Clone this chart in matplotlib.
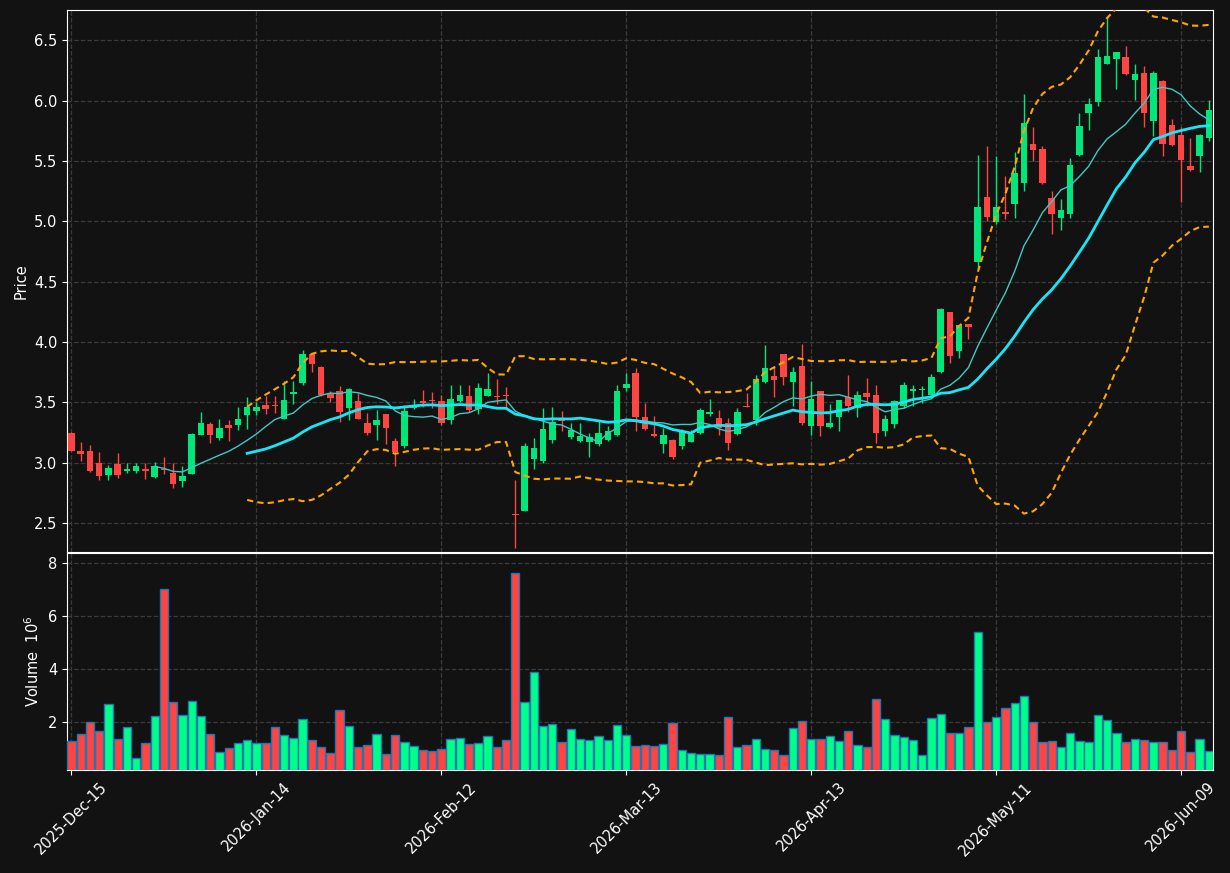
import numpy as np
import pandas as pd
import matplotlib
matplotlib.use("Agg")
import matplotlib.pyplot as plt

# daily OHLC (price) and volume (millions), one entry per trading day
opens = [3.249, 3.100, 3.097, 2.998, 2.898, 2.990, 2.932, 2.932, 2.951, 2.882,
         2.948, 2.915, 2.852, 2.909, 3.232, 3.321, 3.205, 3.312, 3.312, 3.398,
         3.431, 3.478, 3.472, 3.365, 3.567, 3.658, 3.901, 3.796, 3.572, 3.597,
         3.456, 3.514, 3.332, 3.316, 3.407, 3.183, 3.136, 3.454, 3.509, 3.516,
         3.514, 3.352, 3.509, 3.556, 3.448, 3.556, 3.547, 3.560, 2.574, 2.603,
         3.031, 3.014, 3.188, 3.373, 3.216, 3.183, 3.174, 3.155, 3.188, 3.230,
         3.621, 3.743, 3.379, 3.238, 3.158, 3.188, 3.141, 3.174, 3.249, 3.406,
         3.370, 3.326, 3.241, 3.468, 3.354, 3.671, 3.718, 3.898, 3.666, 3.804,
         3.307, 3.594, 3.294, 3.376, 3.542, 3.451, 3.581, 3.561, 3.260, 3.324,
         3.473, 3.592, 3.600, 3.564, 3.749, 4.251, 3.923, 4.152, 4.660, 5.203,
         4.991, 5.079, 5.140, 5.313, 5.639, 5.598, 5.189, 5.024, 5.057, 5.551,
         5.893, 5.992, 6.307, 6.348, 6.362, 6.174, 6.230, 5.827, 6.163, 5.796,
         5.714, 5.460, 5.537, 5.686]
highs = [3.255, 3.172, 3.144, 3.086, 2.984, 3.078, 2.995, 2.995, 2.995, 3.003,
         3.045, 2.995, 2.973, 3.243, 3.420, 3.334, 3.359, 3.354, 3.461, 3.541,
         3.506, 3.555, 3.555, 3.674, 3.674, 3.937, 3.909, 3.800, 3.597, 3.639,
         3.619, 3.578, 3.412, 3.440, 3.407, 3.205, 3.481, 3.531, 3.605, 3.586,
         3.564, 3.644, 3.647, 3.641, 3.661, 3.743, 3.694, 3.627, 2.857, 3.166,
         3.202, 3.456, 3.464, 3.428, 3.332, 3.332, 3.249, 3.345, 3.301, 3.643,
         3.746, 3.781, 3.492, 3.387, 3.285, 3.194, 3.279, 3.271, 3.450, 3.530,
         3.434, 3.368, 3.450, 3.575, 3.724, 3.978, 3.790, 3.898, 3.793, 3.986,
         3.680, 3.594, 3.487, 3.523, 3.730, 3.594, 3.702, 3.644, 3.398, 3.523,
         3.669, 3.641, 3.636, 3.738, 4.280, 4.251, 4.143, 4.152, 5.548, 5.625,
         5.542, 5.377, 5.570, 6.053, 5.777, 5.620, 5.247, 5.184, 5.523, 5.896,
         6.025, 6.425, 6.693, 6.403, 6.453, 6.301, 6.285, 6.241, 6.172, 5.846,
         5.783, 5.689, 5.722, 6.003]
lows = [3.095, 3.012, 2.926, 2.860, 2.854, 2.876, 2.912, 2.912, 2.868, 2.876,
        2.904, 2.788, 2.796, 2.905, 3.230, 3.161, 3.188, 3.183, 3.271, 3.279,
        3.395, 3.401, 3.414, 3.359, 3.487, 3.641, 3.749, 3.555, 3.503, 3.335,
        3.352, 3.365, 3.230, 3.186, 3.156, 2.976, 3.120, 3.448, 3.459, 3.454,
        3.310, 3.321, 3.500, 3.420, 3.404, 3.550, 3.487, 3.462, 2.291, 2.600,
        2.948, 3.000, 3.166, 3.265, 3.200, 3.170, 3.050, 3.140, 3.180, 3.220,
        3.597, 3.265, 3.270, 3.210, 3.083, 3.028, 3.111, 3.170, 3.240, 3.387,
        3.230, 3.105, 3.230, 3.462, 3.315, 3.661, 3.541, 3.641, 3.473, 3.313,
        3.233, 3.219, 3.290, 3.260, 3.423, 3.379, 3.467, 3.164, 3.219, 3.288,
        3.454, 3.467, 3.495, 3.560, 3.740, 3.826, 3.868, 4.025, 4.604, 5.000,
        4.980, 5.018, 5.026, 5.247, 5.496, 5.308, 4.894, 4.927, 5.024, 5.542,
        5.755, 5.954, 6.301, 6.094, 6.208, 6.003, 5.777, 5.708, 5.542, 5.620,
        5.156, 5.418, 5.405, 5.661]
closes = [3.100, 3.075, 2.934, 2.893, 2.956, 2.901, 2.948, 2.973, 2.934, 2.973,
          2.942, 2.827, 2.890, 3.238, 3.329, 3.232, 3.285, 3.290, 3.362, 3.461,
          3.461, 3.448, 3.468, 3.523, 3.583, 3.901, 3.815, 3.564, 3.539, 3.423,
          3.614, 3.365, 3.244, 3.357, 3.285, 3.087, 3.432, 3.470, 3.495, 3.512,
          3.327, 3.531, 3.564, 3.434, 3.622, 3.614, 3.543, 3.556, 2.568, 3.139,
          3.119, 3.279, 3.334, 3.348, 3.271, 3.221, 3.210, 3.243, 3.263, 3.594,
          3.652, 3.381, 3.279, 3.221, 3.230, 3.050, 3.257, 3.238, 3.437, 3.420,
          3.290, 3.166, 3.417, 3.464, 3.690, 3.781, 3.685, 3.708, 3.749, 3.329,
          3.531, 3.307, 3.332, 3.523, 3.473, 3.561, 3.547, 3.247, 3.365, 3.509,
          3.647, 3.614, 3.614, 3.713, 4.276, 3.881, 4.143, 4.121, 5.120, 5.032,
          5.120, 5.060, 5.399, 5.813, 5.592, 5.313, 5.057, 5.093, 5.468, 5.791,
          5.970, 6.362, 6.370, 6.403, 6.216, 6.221, 5.893, 6.232, 5.639, 5.634,
          5.509, 5.427, 5.716, 5.921]
volumes = [1.283, 1.547, 2.000, 1.660, 2.680, 1.358, 1.811, 0.667, 1.220, 2.226,
           7.019, 2.755, 2.264, 2.792, 2.226, 1.547, 0.868, 1.019, 1.220, 1.321,
           1.220, 1.220, 1.811, 1.509, 1.396, 2.113, 1.321, 1.057, 0.830, 2.453,
           1.849, 1.057, 1.132, 1.547, 0.792, 1.509, 1.245, 1.094, 0.943, 0.906,
           0.981, 1.358, 1.396, 1.170, 1.208, 1.472, 1.057, 1.321, 7.623, 2.755,
           3.887, 1.849, 1.925, 1.245, 1.736, 1.358, 1.321, 1.472, 1.321, 1.887,
           1.509, 1.094, 1.132, 1.094, 1.170, 1.962, 0.943, 0.830, 0.792, 0.792,
           0.755, 2.189, 1.057, 1.132, 1.358, 0.981, 0.943, 0.755, 1.774, 2.038,
           1.358, 1.358, 1.472, 1.283, 1.660, 1.132, 1.057, 2.868, 2.113, 1.509,
           1.434, 1.321, 0.755, 2.151, 2.302, 1.585, 1.585, 1.811, 5.396, 2.000,
           2.189, 2.528, 2.717, 2.981, 2.000, 1.245, 1.283, 1.057, 1.585, 1.283,
           1.245, 2.264, 2.075, 1.585, 1.245, 1.358, 1.321, 1.245, 1.245, 0.943,
           1.660, 0.868, 1.358, 0.906]
tick_labels = ["2025-Dec-15", "2026-Jan-14", "2026-Feb-12", "2026-Mar-13",
               "2026-Apr-13", "2026-May-11", "2026-Jun-09"]

bg = "#121212"
up_c, down_c = "#00E67A", "#FF4444"
vup_c, vdown_c = "#00FF88", "#FF4444"

o = np.array(opens); h = np.array(highs); l = np.array(lows); c = np.array(closes)
v = np.array(volumes)
x = np.arange(len(c))
close_s = pd.Series(c)
ma10 = close_s.rolling(10).mean()
ma20 = close_s.rolling(20).mean()
sd20 = close_s.rolling(20).std()

fig = plt.figure(figsize=(12.3, 8.73), dpi=100, facecolor=bg)
ax = fig.add_axes([0.0545, 0.3677, 0.9317, 0.6208])
axv = fig.add_axes([0.0545, 0.118, 0.9317, 0.2486], sharex=ax)

up = c >= o
cols = np.where(up, up_c, down_c)
body_lo = np.minimum(o, c)
body_h = np.maximum(np.abs(c - o), 0.008)
ax.vlines(x, l, h, colors=cols, linewidth=1, zorder=2)
ax.bar(x, body_h, bottom=body_lo, width=0.7, color=cols, linewidth=0, zorder=3)

ax.plot(x, ma10, color="#3FC9C0", linewidth=1, zorder=4)
ax.plot(x, ma20, color="#19E6F5", linewidth=2, zorder=4)
ax.plot(x, ma20 + 2 * sd20, color="#FFA500", linewidth=1.5, linestyle=(0, (3, 2)), zorder=4)
ax.plot(x, ma20 - 2 * sd20, color="#FFA500", linewidth=1.5, linestyle=(0, (3, 2)), zorder=4)

vcols = np.where(up, vup_c, vdown_c)
axv.bar(x, v, width=0.9, color=vcols, edgecolor="#1f77b4", linewidth=1, zorder=3)

ax.set_ylim(2.26, 6.75)
ax.set_yticks(np.arange(2.5, 6.51, 0.5))
axv.set_ylim(0.3 * v.min(), 1.1 * v.max())
axv.set_yticks([2, 4, 6, 8])
ax.set_xlim(-0.48, len(c) - 0.55)
tick_pos = np.arange(0, len(c), 20)[:len(tick_labels)]
axv.set_xticks(tick_pos)
axv.set_xticklabels(tick_labels, rotation=45, ha="center")
plt.setp(ax.get_xticklabels(), visible=False)

for a in (ax, axv):
    a.set_facecolor(bg)
    a.grid(True, color="#3a3a3a", linestyle="--", linewidth=0.9)
    a.set_axisbelow(True)
    for s in a.spines.values():
        s.set_color("white")
    a.tick_params(colors="white", labelsize=10.5)

ax.set_ylabel("Price", color="white", fontsize=10.5)
axv.set_ylabel("Volume  $10^6$", color="white", fontsize=10.5)

fig.savefig("out.png", dpi=100, facecolor=bg)
